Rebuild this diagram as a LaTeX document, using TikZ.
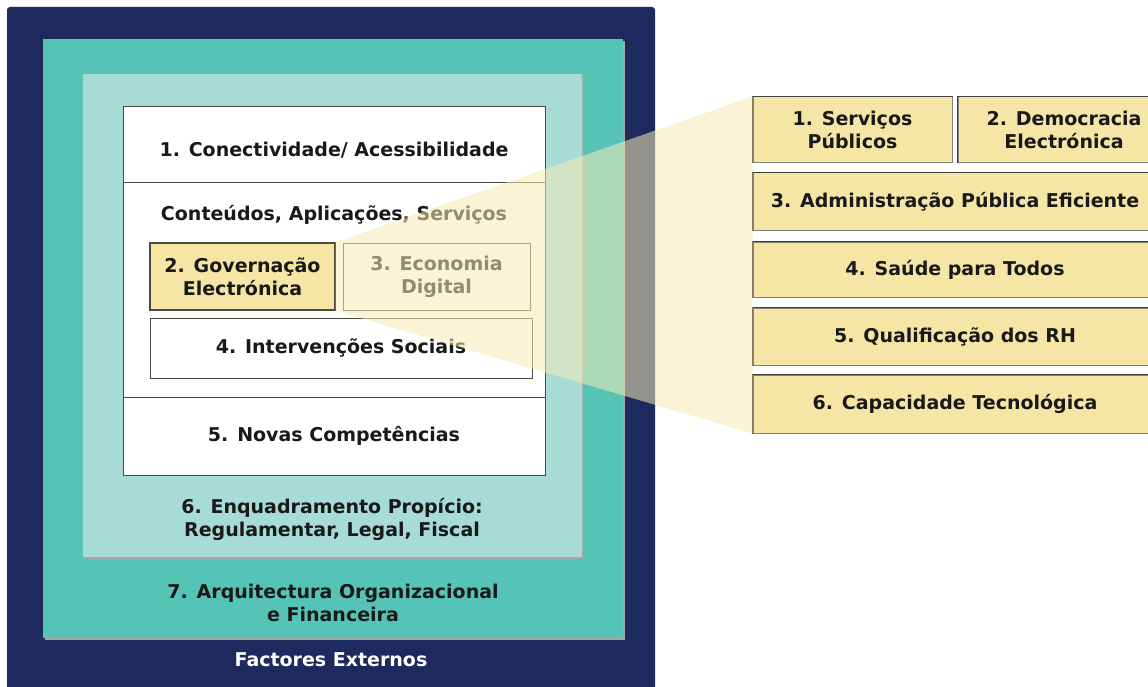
\documentclass[tikz,border=0pt]{standalone}
\usepackage{fontspec}
\setmainfont{DejaVu Sans}
\definecolor{navy}{HTML}{1E2A5E}
\definecolor{tealA}{HTML}{55C3B5}
\definecolor{tealB}{HTML}{A6DCD5}
\definecolor{ybox}{HTML}{F5E6A5}
\definecolor{beamc}{HTML}{F7EBB5}
\definecolor{edgec}{HTML}{4A4A40}
\tikzset{
  lbl/.style={font=\bfseries\fontsize{19}{23}\selectfont, align=center, inner sep=0pt, text=black!90},
  ybx/.style={lbl, fill=ybox, draw=edgec!70, line width=1pt},
  wbx/.style={lbl, fill=white, draw=edgec, line width=1pt},
  shadowc/.style={fill=black!35},
  topedge/.style={draw=black!75, line width=1.6pt},
}
\begin{document}
\begin{tikzpicture}[x=1pt, y=-1pt]
\useasboundingbox (0,0) rectangle (1148,687);
\clip (0,0) rectangle (1148,687);
% panels
\fill[white] (0,0) rectangle (1148,687);
\fill[navy, rounded corners=3pt] (7,7) rectangle (655,700);
\fill[shadowc] (45,41) rectangle (625,640);
\fill[tealA] (43,39) rectangle (623,638);
\fill[shadowc] (85,76) rectangle (584,559);
\fill[tealB] (83,74) rectangle (582,557);
\node[wbx, minimum width=422pt, minimum height=368pt] (core) at (334,291) {};
\draw[edgec, line width=1pt] (123,183) -- (545,183);
\draw[edgec, line width=1pt] (123,397) -- (545,397);
% left texts
\node[lbl] (t1) at (334,150) {1. Conectividade/ Acessibilidade};
\node[lbl] (t2) at (334,215) {Conteúdos, Aplicações, Serviços};
\node[wbx, minimum width=187pt, minimum height=67pt] (eco) at (436.5,276.5) {3. Economia\\Digital};
\node[wbx, minimum width=382pt, minimum height=60pt] (soc) at (341,348) {4. Intervenções Sociais};
\node[ybx, draw=edgec, line width=1.4pt, minimum width=185pt, minimum height=67pt] (gov) at (242.5,276.5) {2. Governação\\Electrónica};
\node[lbl] (t5) at (334,436) {5. Novas Competências};
\node[lbl] (t6) at (332,519) {6. Enquadramento Propício:\\Regulamentar, Legal, Fiscal};
\node[lbl] (t7) at (333,603) {7. Arquitectura Organizacional\\e Financeira};
\node[lbl, text=white] (ext) at (331,660) {Factores Externos};
% right boxes
\node[ybx, minimum width=199pt, minimum height=66pt] (r1) at (852.5,130) {1. Serviços\\Públicos};
\node[ybx, minimum width=212pt, minimum height=66pt] (r2) at (1064,130) {2. Democracia\\Electrónica};
\node[ybx, minimum width=404pt, minimum height=57pt] (r3) at (955,201.5) {3. Administração Pública Eficiente};
\node[ybx, minimum width=404pt, minimum height=55pt] (r4) at (955,269.5) {4. Saúde para Todos};
\node[ybx, minimum width=404pt, minimum height=57pt] (r5) at (955,336.5) {5. Qualificação dos RH};
\node[ybx, minimum width=404pt, minimum height=58pt] (r6) at (955,404) {6. Capacidade Tecnológica};
\foreach \b in {r1,r2,r3,r4,r5,r6}{
  \draw[topedge] (\b.south west) -- (\b.north west) -- (\b.north east);
}
% beam
\fill[beamc, opacity=0.55] (gov.north east) -- (r1.north west) -- (r6.south west) -- (gov.south east) -- cycle;
\end{tikzpicture}
\end{document}
